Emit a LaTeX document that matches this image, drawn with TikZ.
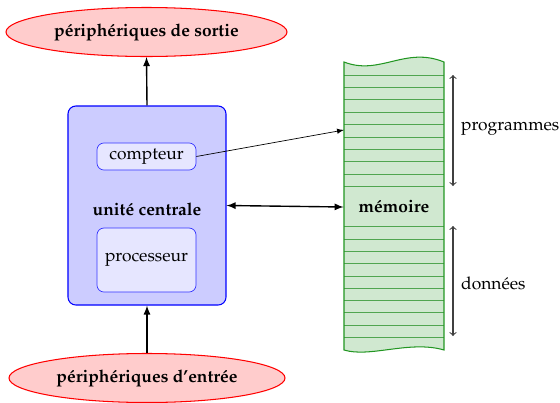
\documentclass[tikz,border=0pt]{standalone}
\usepackage[T1]{fontenc}
\usepackage{mathpazo}
\usetikzlibrary{shapes.geometric,arrows}
\definecolor{periph}{RGB}{255,204,204}
\definecolor{cpufill}{RGB}{204,204,255}
\definecolor{subfill}{RGB}{230,230,255}
\definecolor{memfill}{RGB}{208,232,208}
\definecolor{memdraw}{RGB}{34,150,34}
\definecolor{memline}{RGB}{80,165,80}
\begin{document}
\begin{tikzpicture}[x=0.575pt,y=-0.575pt,
  periphery/.style={ellipse,draw=red,semithick,fill=periph,inner sep=0pt,
    minimum width=281*0.575pt,minimum height=49*0.575pt,font=\bfseries},
  cpubox/.style={draw=blue,semithick,fill=cpufill,rounded corners=4.5pt,
    minimum width=158*0.575pt,minimum height=199*0.575pt},
  subbox/.style={draw=blue!80,fill=subfill,rounded corners=4pt,
    minimum width=99*0.575pt},
  link/.style={thick,-latex},
  span/.style={semithick,black!75,<->}]
\useasboundingbox (0,0) rectangle (560,403);

% peripherals
\node[periphery] (out) at (146.5,32) {p\'eriph\'eriques de sortie};
\node[periphery, minimum width=276*0.575pt] (in) at (147,378) {p\'eriph\'eriques d'entr\'ee};

% central unit
\node[cpubox] (cpu) at (147,205.5) {};
\node[subbox,minimum height=27*0.575pt] (cnt) at (146.5,156.5) {compteur};
\node[font=\bfseries] (uc) at (147,209) {unit\'e centrale};
\node[subbox,minimum height=64*0.575pt] (proc) at (146.5,260) {processeur};

% memory column with wavy ends
\path[fill=memfill] (344,62) .. controls (380,76) and (405,46) .. (444,62)
  -- (444,350) .. controls (410,340) and (370,358) .. (344,350) -- cycle;
\begin{scope}
  \clip (344,62) .. controls (380,76) and (405,46) .. (444,62)
    -- (444,350) .. controls (410,340) and (370,358) .. (344,350) -- cycle;
  \foreach \k in {0,...,9} {
    \draw[memline] (344,75+12.4*\k) -- (444,75+12.4*\k);
    \draw[memline] (344,226.7+12.3*\k) -- (444,226.7+12.3*\k);
  }
\end{scope}
\draw[memdraw,semithick] (344,62) .. controls (380,76) and (405,46) .. (444,62)
  -- (444,350) .. controls (410,340) and (370,358) .. (344,350) -- cycle;
\node[font=\bfseries,minimum width=100*0.575pt,minimum height=40*0.575pt,inner sep=0pt]
  (mem) at (394,207) {m\'emoire};
\coordinate (slot) at (344,130);

% connections
\draw[link] (cpu.north) -- (out.south);
\draw[link] (in.north) -- (cpu.south);
\draw[thick,latex-latex] (cpu.east) -- (mem.west);
\draw[-latex] (cnt.east) -- (slot);

% memory regions
\coordinate (pt) at (453,75);
\coordinate (pb) at (453,186);
\coordinate (dt) at (453,226);
\coordinate (db) at (453,336);
\draw[span] (pt) -- (pb);
\draw[span] (dt) -- (db);
\node[anchor=west] (prog) at (455,129) {programmes};
\node[anchor=west] (data) at (455,283) {donn\'ees};
\end{tikzpicture}
\end{document}
